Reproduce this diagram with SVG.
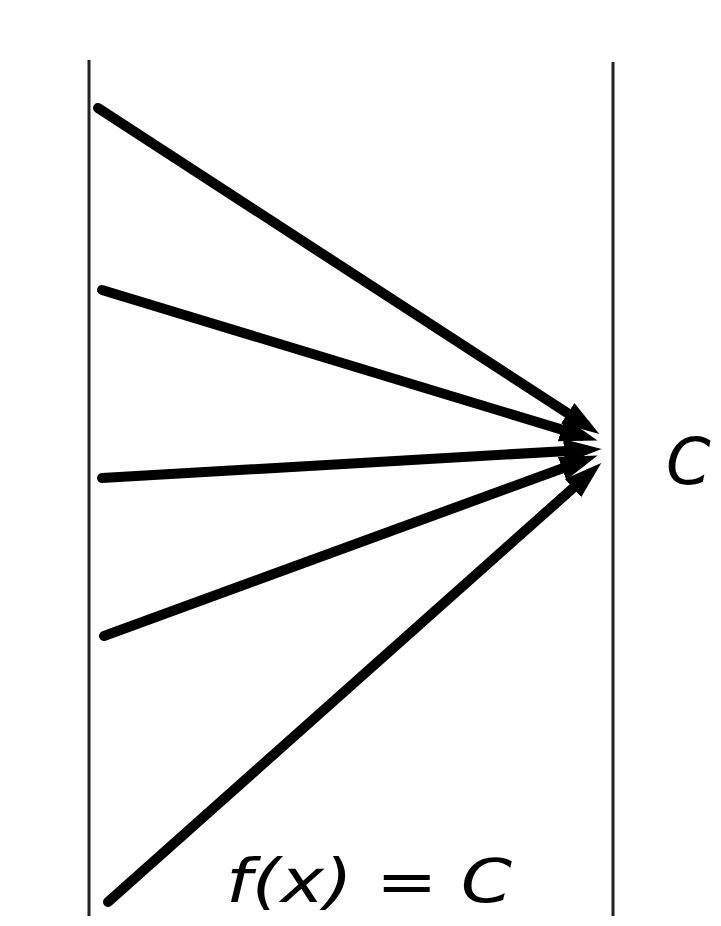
<svg xmlns="http://www.w3.org/2000/svg" width="721" height="926" viewBox="0 0 721 926">
<style>
.wall{stroke:#222;stroke-width:3;fill:none}
.arr{stroke:#000;stroke-width:10;stroke-linecap:round;fill:none}
.lbl{font-family:"DejaVu Sans","Liberation Sans",sans-serif;font-style:italic;fill:#000}
</style>
<defs>
<marker id="ah" markerUnits="userSpaceOnUse" markerWidth="40" markerHeight="30" viewBox="0 -13 36 26" refX="19" refY="0" orient="auto">
<path d="M0,-11 L34,0 L0,11 z" fill="#000"/>
</marker>
</defs>
<g id="walls">
<line class="wall" x1="89" y1="60" x2="89" y2="916"/>
<line class="wall" x1="613" y1="62" x2="613" y2="916"/>
</g>
<g id="connectors">
<line class="arr" x1="98" y1="108" x2="585.4" y2="424.8" marker-end="url(#ah)"/>
<line class="arr" x1="102" y1="290" x2="581.6" y2="435.6" marker-end="url(#ah)"/>
<line class="arr" x1="102" y1="478" x2="585" y2="449.9" marker-end="url(#ah)"/>
<line class="arr" x1="104" y1="636" x2="581.9" y2="461.2" marker-end="url(#ah)"/>
<line class="arr" x1="108" y1="902" x2="588.8" y2="474" marker-end="url(#ah)"/>
</g>
<g id="label-c">
<text class="lbl" x="666" y="484" font-size="64">C</text>
</g>
<g id="label-fx">
<text class="lbl" x="226" y="902" font-size="60" textLength="286" lengthAdjust="spacingAndGlyphs">f(x) = C</text>
</g>
</svg>
